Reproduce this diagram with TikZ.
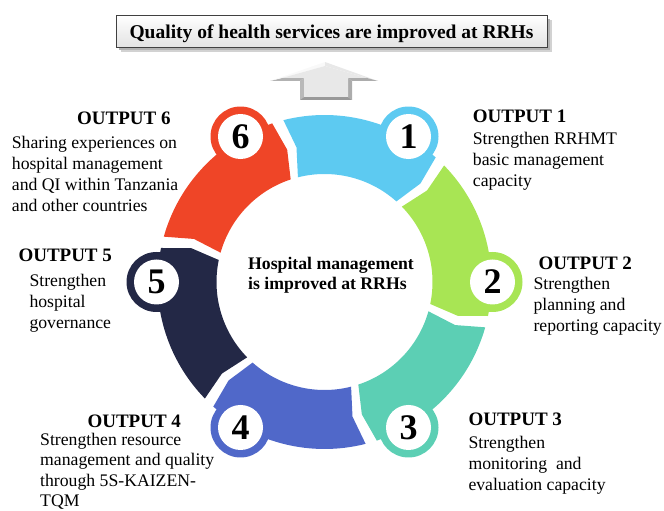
\documentclass[tikz,border=0pt]{standalone}
\usepackage{fontspec}
\setmainfont{Liberation Serif}
\definecolor{segA}{HTML}{5DCAF1}
\definecolor{segB}{HTML}{A8E554}
\definecolor{segC}{HTML}{5CCFB4}
\definecolor{segD}{HTML}{5068C9}
\definecolor{segE}{HTML}{232846}
\definecolor{segF}{HTML}{EF4527}
\begin{document}
\begin{tikzpicture}[x=1pt,y=1pt,
  head/.style={font=\fontsize{19}{21}\selectfont\bfseries, inner sep=0pt, anchor=base west},
  body/.style={font=\fontsize{17.7}{21}\selectfont, inner sep=0pt, anchor=base west},
  num/.style={font=\fontsize{36}{36}\selectfont\bfseries, inner sep=0pt},
  titlebox/.style={draw=black!75, line width=0.9pt, top color=white, bottom color=gray!22,
    minimum width=431pt, minimum height=32pt, inner sep=0pt,
    text height=15pt, text depth=0pt, font=\fontsize{19.5}{21}\selectfont\bfseries},
]
\useasboundingbox (0,0) rectangle (664,511);

% headline box with its shadow
\fill[gray!35] (121,459) rectangle (552,491);
\fill[gray!60] (119,461) rectangle (550,492);
\node[titlebox] (title) at (331.5,480) {Quality of health services are improved at RRHs};

% bevelled up arrow
\coordinate (o1) at (300,411); \coordinate (o2) at (300,430); \coordinate (o3) at (270,430);
\coordinate (o4) at (325,449); \coordinate (o5) at (378,430); \coordinate (o6) at (352,430);
\coordinate (o7) at (352,411);
\coordinate (i1) at (304,414); \coordinate (i2) at (304,433); \coordinate (i3) at (282,433);
\coordinate (i4) at (325,445); \coordinate (i5) at (367,433); \coordinate (i6) at (348,433);
\coordinate (i7) at (348,414);
\fill[gray!55] (o1) -- (o2) -- (i2) -- (i1) -- cycle;
\fill[gray!60] (o2) -- (o3) -- (i3) -- (i2) -- cycle;
\fill[gray!5]  (o3) -- (o4) -- (i4) -- (i3) -- cycle;
\fill[gray!18] (o4) -- (o5) -- (i5) -- (i4) -- cycle;
\fill[gray!65] (o5) -- (o6) -- (i6) -- (i5) -- cycle;
\fill[gray!65] (o6) -- (o7) -- (i7) -- (i6) -- cycle;
\fill[gray!80] (o7) -- (o1) -- (i1) -- (i7) -- cycle;
\fill[gray!18] (i1) -- (i2) -- (i3) -- (i4) -- (i5) -- (i6) -- (i7) -- cycle;

% ring of six arrow segments, each with a numbered disc
\begin{scope}[shift={(324.5,229)}]
\foreach \ang/\col/\num in {60/segA/1, 0/segB/2, -60/segC/3, -120/segD/4, 180/segE/5, 120/segF/6}{
  \pgfmathsetmacro\a{\ang-11.75}
  \pgfmathsetmacro\an{\ang-14.25}
  \pgfmathsetmacro\b{\ang+44.25}
  \pgfmathsetmacro\bn{\ang+41.75}
  \fill[\col] (\b:108pt) -- (\bn:137.5pt) -- (\b:167pt)
     arc[start angle=\b, end angle=\a, radius=167pt]
     -- (\an:137.5pt) -- (\a:108pt)
     arc[start angle=\a, end angle=\b, radius=108pt] -- cycle;
  \fill[\col] (\ang:168pt) circle[radius=30pt];
  \fill[white] (\ang:168pt) circle[radius=22.5pt];
  \node[num] (n\num) at (\ang:168pt) {\num};
}
\end{scope}

% centre statement
\node[anchor=base west, inner sep=0pt, font=\fontsize{17.7}{20}\selectfont\bfseries] (hub) at (248,241)
  {\begin{tabular}[t]{@{}l@{}}Hospital management\\is improved at RRHs\end{tabular}};

% output descriptions
\node[head] (h1) at (472.7,388.7) {OUTPUT 1};
\node[body] (t1) at (472.7,366) {\begin{tabular}[t]{@{}l@{}}Strengthen RRHMT\\basic management\\capacity\end{tabular}};

\node[head] (h2) at (538.3,241) {OUTPUT 2};
\node[body] (t2) at (533.3,221) {\begin{tabular}[t]{@{}l@{}}Strengthen\\planning and\\reporting capacity\end{tabular}};

\node[head] (h3) at (468.3,85) {OUTPUT 3};
\node[body] (t3) at (468.3,62.7) {\begin{tabular}[t]{@{}l@{}}Strengthen\\monitoring~ and\\evaluation capacity\end{tabular}};

\node[head] (h4) at (87.3,83.5) {OUTPUT 4};
\node[body, font=\fontsize{17.7}{20.3}\selectfont] (t4) at (40,65.5) {\begin{tabular}[t]{@{}l@{}}Strengthen resource\\management and quality\\through 5S-KAIZEN-\\TQM\end{tabular}};

\node[head] (h5) at (18.3,249.3) {OUTPUT 5};
\node[body] (t5) at (29.3,224.3) {\begin{tabular}[t]{@{}l@{}}Strengthen\\hospital\\governance\end{tabular}};

\node[head] (h6) at (77,386.7) {OUTPUT 6};
\node[body] (t6) at (11.7,362.7) {\begin{tabular}[t]{@{}l@{}}Sharing experiences on\\hospital management\\and QI within Tanzania\\and other countries\end{tabular}};
\end{tikzpicture}
\end{document}
